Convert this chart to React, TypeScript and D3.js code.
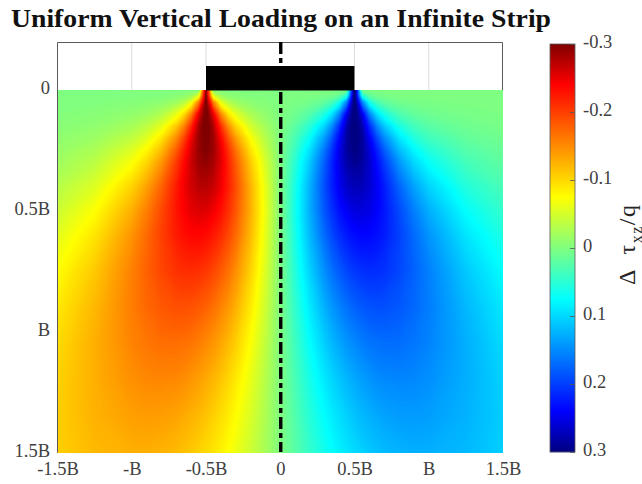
import * as d3 from 'd3';
import React, { useRef, useEffect } from 'react';

// --------------------------------------------------------
// values (shear stress / q), right half of the field.
// the left half of the picture is the same with the sign flipped
// --------------------------------------------------------
const offsets = [0, 0.1, 0.2, 0.3, 0.35, 0.4, 0.45, 0.5, 0.55, 0.6, 0.65, 0.7, 0.8, 0.9, 1, 1.25, 1.5];
const depths = [0, 0.025, 0.05, 0.1, 0.15, 0.2, 0.25, 0.3, 0.4, 0.5, 0.6, 0.75, 0.9, 1.05, 1.2, 1.35, 1.5];

const tauRows = [
  [0, 0, 0, 0, 0, 0, 0, 0.318, 0, 0, 0, 0, 0, 0, 0, 0, 0],
  [0, 0.001, 0.002, 0.005, 0.008, 0.019, 0.063, 0.318, 0.064, 0.019, 0.009, 0.005, 0.002, 0.001, 0.001, 0, 0],
  [0, 0.003, 0.007, 0.018, 0.031, 0.063, 0.158, 0.318, 0.158, 0.063, 0.031, 0.018, 0.008, 0.005, 0.003, 0.001, 0.001],
  [0, 0.01, 0.026, 0.059, 0.094, 0.155, 0.251, 0.315, 0.252, 0.157, 0.096, 0.062, 0.03, 0.017, 0.011, 0.005, 0.002],
  [0, 0.021, 0.05, 0.104, 0.15, 0.212, 0.279, 0.311, 0.28, 0.215, 0.154, 0.11, 0.06, 0.036, 0.023, 0.01, 0.005],
  [0, 0.032, 0.074, 0.14, 0.187, 0.24, 0.286, 0.306, 0.288, 0.245, 0.194, 0.151, 0.091, 0.057, 0.038, 0.017, 0.009],
  [0, 0.042, 0.094, 0.166, 0.209, 0.252, 0.286, 0.3, 0.289, 0.259, 0.22, 0.181, 0.119, 0.08, 0.055, 0.026, 0.014],
  [0, 0.051, 0.11, 0.181, 0.219, 0.255, 0.281, 0.292, 0.286, 0.265, 0.234, 0.202, 0.143, 0.101, 0.072, 0.035, 0.019],
  [0, 0.061, 0.125, 0.191, 0.221, 0.247, 0.266, 0.274, 0.273, 0.262, 0.245, 0.223, 0.176, 0.135, 0.103, 0.055, 0.032],
  [0, 0.064, 0.127, 0.185, 0.21, 0.231, 0.246, 0.255, 0.256, 0.252, 0.241, 0.227, 0.193, 0.158, 0.127, 0.074, 0.045],
  [0, 0.061, 0.12, 0.172, 0.194, 0.212, 0.225, 0.234, 0.238, 0.237, 0.232, 0.223, 0.199, 0.171, 0.144, 0.091, 0.058],
  [0, 0.054, 0.104, 0.148, 0.167, 0.182, 0.195, 0.204, 0.209, 0.212, 0.211, 0.208, 0.195, 0.177, 0.157, 0.11, 0.075],
  [0, 0.046, 0.088, 0.126, 0.142, 0.155, 0.167, 0.176, 0.183, 0.187, 0.189, 0.189, 0.183, 0.173, 0.159, 0.121, 0.089],
  [0, 0.038, 0.074, 0.106, 0.12, 0.132, 0.143, 0.151, 0.158, 0.164, 0.167, 0.169, 0.169, 0.163, 0.155, 0.127, 0.098],
  [0, 0.032, 0.062, 0.089, 0.101, 0.112, 0.122, 0.13, 0.137, 0.143, 0.148, 0.151, 0.153, 0.152, 0.147, 0.127, 0.104],
  [0, 0.027, 0.053, 0.076, 0.087, 0.096, 0.105, 0.113, 0.12, 0.125, 0.13, 0.134, 0.138, 0.139, 0.137, 0.125, 0.106],
  [0, 0.023, 0.045, 0.065, 0.074, 0.083, 0.091, 0.098, 0.104, 0.11, 0.115, 0.119, 0.124, 0.127, 0.127, 0.12, 0.106],
];

const xTicks = [-1.5, -1, -0.5, 0, 0.5, 1, 1.5];
const xTickLabels = ['-1.5B', '-B', '-0.5B', '0', '0.5B', 'B', '1.5B'];
const yTicks = [0, 0.5, 1, 1.5];
const yTickLabels = ['0', '0.5B', 'B', '1.5B'];
const barTicks = [-0.3, -0.2, -0.1, 0, 0.1, 0.2, 0.3];
const barTickLabels = ['-0.3', '-0.2', '-0.1', '0', '0.1', '0.2', '0.3'];
const gridLines = [-1, 1];

const jetStops = [-0.3, -0.24, -0.075, 0.075, 0.24, 0.3];
const jetColors = ['#800000', '#ff0000', '#ffff00', '#00ffff', '#0000ff', '#000080'];

const serif = '"Liberation Serif", serif';
const inkGrey = '#404040';

const color = d3.scaleLinear<string>().domain(jetStops).range(jetColors).clamp(true);

// plot frame
const x = d3.scaleLinear().domain([-1.5, 1.5]).range([57.5, 503]);
const y = d3.scaleLinear().domain([0, 1.5]).range([90, 452.5]);
const barY = d3.scaleLinear().domain([-0.3, 0.3]).range([44, 452]);

function Field() {
  // --------------------------------------------------------
  // mirror the table so the grid spans the whole width
  // --------------------------------------------------------
  const columns = [...offsets.slice(1).reverse().map(d => -d), ...offsets];
  const flat = tauRows.flatMap(row => [...row.slice(1).reverse().map(d => -d), ...row]);

  const nx = columns.length;
  const ny = depths.length;

  // the grid is not evenly spaced, so contour coordinates (cell centre = i + .5)
  // go through a piecewise scale to reach pixels
  const gx = d3.scaleLinear().domain(d3.range(nx).map(i => i + 0.5)).range(columns.map(d => x(d))).clamp(true);
  const gy = d3.scaleLinear().domain(d3.range(ny).map(i => i + 0.5)).range(depths.map(d => y(d))).clamp(true);

  const path = d3.geoPath(d3.geoTransform({
    point(px, py) { this.stream.point(gx(px), gy(py)); }
  }));

  const levels = d3.range(-0.3, 0.3, 0.002);
  const bands = d3.contours().size([nx, ny]).thresholds(levels)(flat);

  return (
    <g>
      <rect x={x(-1.5)} y={y(0)} width={x(1.5) - x(-1.5)} height={y(1.5) - y(0)} fill={color(-0.3)} />
      {bands.map(b => (
        <path key={b.value} d={path(b) || ''} fill={color(b.value + 0.001)} />
      ))}
    </g>
  );
}

export default function App() {
  const xAxisRef = useRef<SVGGElement>(null);
  const yAxisRef = useRef<SVGGElement>(null);
  const barAxisRef = useRef<SVGGElement>(null);

  useEffect(() => {
    const style = (g: any) => {
      g.select('.domain').remove();
      g.selectAll('line').attr('stroke', '#555').attr('stroke-width', 0.8);
      g.selectAll('text').attr('font-family', serif).attr('font-size', 18.5).attr('fill', inkGrey);
    };

    d3.select(xAxisRef.current)
      .call(d3.axisBottom(x).tickValues(xTicks).tickSize(0).tickPadding(10)
        .tickFormat((_, i) => xTickLabels[i]) as any)
      .call(style);

    d3.select(yAxisRef.current)
      .call(d3.axisLeft(y).tickValues(yTicks).tickSize(0).tickPadding(7)
        .tickFormat((_, i) => yTickLabels[i]) as any)
      .call(style)
      .selectAll('text').attr('transform', 'translate(0,-2)');

    d3.select(barAxisRef.current)
      .call(d3.axisRight(barY).tickValues(barTicks).tickSize(-5).tickPadding(8)
        .tickFormat((_, i) => barTickLabels[i]) as any)
      .call(style)
      .selectAll('text').attr('transform', 'translate(0,-2)');
  }, []);

  const barSteps = d3.range(0, 408);

  return (
    <svg width={642} height={484} style={{ position: 'absolute', left: 0, top: 0 }}>
      <text x={11} y={27} fontFamily={serif} fontWeight="bold" fontSize={26} fill="#111"
        textLength={540} lengthAdjust="spacingAndGlyphs">
        Uniform Vertical Loading on an Infinite Strip
      </text>

      {/* white band above the ground surface */}
      {gridLines.map(d => (
        <line key={d} x1={x(d)} x2={x(d)} y1={42} y2={90} stroke="#dcdcdc" strokeWidth={1} />
      ))}
      <line x1={x(-0.5)} x2={x(-0.5)} y1={42} y2={66} stroke="#dcdcdc" strokeWidth={1} />
      <line x1={x(0.5)} x2={x(0.5)} y1={42} y2={66} stroke="#dcdcdc" strokeWidth={1} />

      <Field />

      <path d={`M${x(-1.5)},452.5V42.5H${x(1.5) - 0.5}V90`} fill="none" stroke="#5a5a5a" strokeWidth={1} />

      <rect x={x(-0.5)} y={66} width={x(0.5) - x(-0.5)} height={24.5} fill="#000" />
      <line x1={x(0) + 0.5} x2={x(0) + 0.5} y1={42} y2={452} stroke="#000" strokeWidth={3.4} strokeDasharray="12,4,5,4" />

      <g ref={xAxisRef} transform="translate(0,452)" />
      <g ref={yAxisRef} transform="translate(57,0)" />

      {/* colour bar */}
      {barSteps.map(i => {
        const v = barY.invert(44 + i + 0.5);
        return <rect key={i} x={550} y={44 + i} width={25} height={1.2} fill={color(v)} />;
      })}
      <rect x={550} y={44} width={25} height={408} fill="none" stroke="#5a5a5a" strokeWidth={0.8} />
      <g ref={barAxisRef} transform="translate(575,0)" />

      <text transform="translate(635,285) rotate(-90)" fontFamily={serif} fontSize={24} fill="#262626"
        letterSpacing={1.5} style={{ whiteSpace: 'pre' }}>
        {'Δ  τ'}
        <tspan fontSize={16} dy={7}>xz</tspan>
        <tspan dy={-7}>/q</tspan>
      </text>
    </svg>
  );
}
